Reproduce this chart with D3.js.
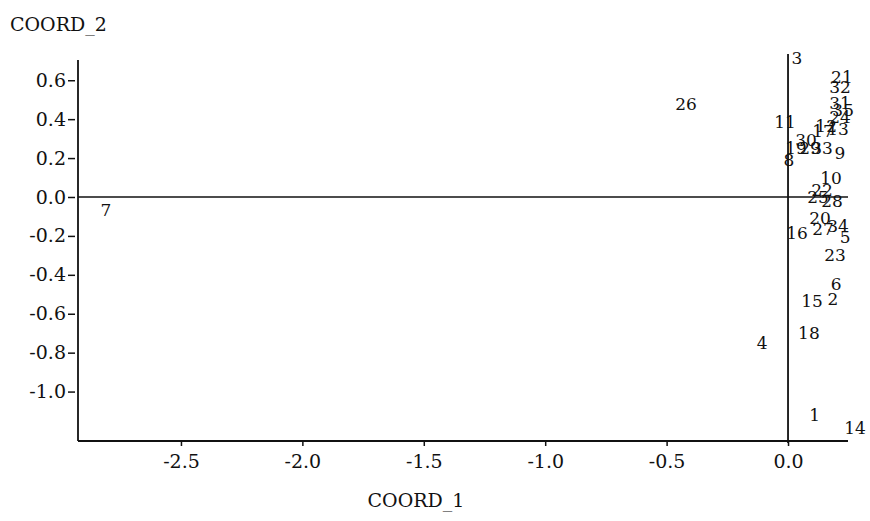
<!DOCTYPE html>
<html>
<head>
<meta charset="utf-8">
<script src="https://cdn.jsdelivr.net/npm/d3@7"></script>
<style>
  body { margin: 0; background: #fff; }
  text { font-family: "DejaVu Serif", serif; fill: #111; }
</style>
</head>
<body>
<svg id="chart" width="870" height="521"></svg>
<script>
// object ids and their coordinates
var ids    = [1, 2, 3, 4, 5, 6, 7, 8, 9, 10, 11, 12, 13, 14, 15, 16, 17, 18,
              19, 20, 21, 22, 23, 24, 25, 26, 27, 28, 29, 30, 31, 32, 33, 34, 35];
var coord1 = [0.11, 0.185, 0.037, -0.107, 0.235, 0.198, -2.809, 0.004, 0.214, 0.177, -0.012, 0.157, 0.206, 0.276, 0.099, 0.037, 0.144, 0.086,
              0.033, 0.132, 0.222, 0.14, 0.194, 0.214, 0.124, -0.42, 0.144, 0.181, 0.091, 0.074, 0.214, 0.214, 0.14, 0.206, 0.227];
var coord2 = [-1.12, -0.524, 0.715, -0.751, -0.206, -0.447, -0.067, 0.19, 0.226, 0.098, 0.386, 0.365, 0.35, -1.188, -0.535, -0.185, 0.339, -0.699,
              0.252, -0.108, 0.617, 0.036, -0.298, 0.411, 0.0, 0.478, -0.165, -0.021, 0.252, 0.293, 0.483, 0.566, 0.252, -0.149, 0.447];

var xTicks = [-2.5, -2.0, -1.5, -1.0, -0.5, 0.0];
var yTicks = [0.6, 0.4, 0.2, 0.0, -0.2, -0.4, -0.6, -0.8, -1.0];

var svg = d3.select("#chart");

var x = d3.scaleLinear().domain([-2.924, 0.247]).range([78, 848]);
var y = d3.scaleLinear().domain([-1.254, 0.704]).range([441, 60]);

var data = ids.map(function(d, i) { return { id: d, c1: coord1[i], c2: coord2[i] }; });

// y axis
var yAxis = svg.append("g")
    .attr("transform", "translate(78,0)")
    .call(d3.axisLeft(y).tickValues(yTicks).tickSize(8).tickPadding(6).tickFormat(d3.format(".1f")));
yAxis.select(".domain").remove();
yAxis.selectAll(".tick line").attr("x1", -3).attr("x2", -10).attr("stroke", "#111").attr("stroke-width", 1.5);
yAxis.selectAll(".tick text").attr("font-size", 19).attr("x", -12).text(function(d) { return d3.format(".1f")(d).replace("−", "-"); });

// x axis
var xAxis = svg.append("g")
    .attr("transform", "translate(0,441)")
    .call(d3.axisBottom(x).tickValues(xTicks).tickSize(5).tickPadding(9).tickFormat(d3.format(".1f")));
xAxis.select(".domain").remove();
xAxis.selectAll(".tick line").attr("stroke", "#111").attr("stroke-width", 1.5);
xAxis.selectAll(".tick text").attr("font-size", 19).text(function(d) { return d3.format(".1f")(d).replace("−", "-"); });

// frame lines
svg.append("line").attr("x1", 78).attr("x2", 78).attr("y1", 60).attr("y2", 441)
    .attr("stroke", "#111").attr("stroke-width", 1.8);
svg.append("line").attr("x1", 78).attr("x2", 848).attr("y1", 441).attr("y2", 441)
    .attr("stroke", "#111").attr("stroke-width", 1.8);

// zero reference lines
svg.append("line").attr("x1", 78).attr("x2", 848).attr("y1", y(0)).attr("y2", y(0))
    .attr("stroke", "#111").attr("stroke-width", 1.5);
svg.append("line").attr("x1", x(0)).attr("x2", x(0)).attr("y1", y(0.735)).attr("y2", 443)
    .attr("stroke", "#111").attr("stroke-width", 1.8);

// point labels
svg.append("g")
    .selectAll("text")
    .data(data)
    .enter()
    .append("text")
    .attr("x", function(d) { return x(d.c1); })
    .attr("y", function(d) { return y(d.c2); })
    .attr("text-anchor", "middle")
    .attr("dominant-baseline", "central")
    .attr("font-size", 17)
    .text(function(d) { return d.id; });

// axis titles
svg.append("text").attr("x", 10).attr("y", 31).attr("font-size", 19).text("COORD_2");
svg.append("text").attr("x", 416).attr("y", 507).attr("text-anchor", "middle").attr("font-size", 19).text("COORD_1");
</script>
</body>
</html>
